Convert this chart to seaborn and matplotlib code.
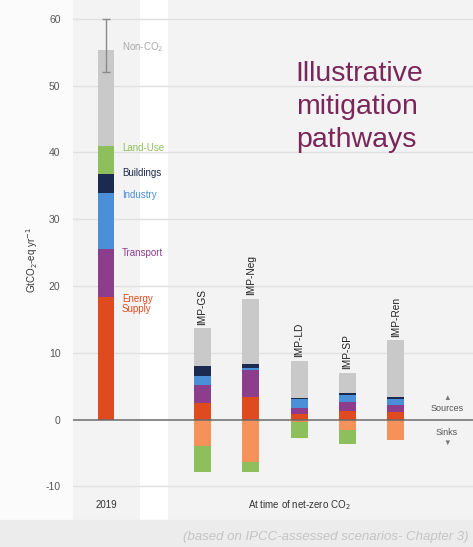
import numpy as np
import matplotlib
matplotlib.use("Agg")
import matplotlib.pyplot as plt
import seaborn as sns

# GHG emissions by sector (GtCO2-eq/yr): 2019 and at time of net-zero CO2
pathways = ["2019", "IMP-GS", "IMP-Neg", "IMP-LD", "IMP-SP", "IMP-Ren"]
energy_supply = [18.3, 2.4, 3.3, 0.9, 1.3, 1.1]
transport = [7.3, 2.7, 4.1, 0.8, 1.3, 1.0]
industry = [8.3, 1.4, 0.3, 1.3, 1.0, 0.9]
buildings = [2.8, 1.5, 0.6, 0.2, 0.3, 0.4]
land_use = [4.3, 0.0, 0.0, 0.0, 0.0, 0.0]
non_co2 = [14.3, 5.7, 9.8, 5.6, 3.1, 8.5]
energy_sinks = [0.0, -4.0, -6.3, -0.3, -1.6, -3.0]
land_use_sinks = [0.0, -3.8, -1.5, -2.4, -2.0, -0.1]

range_2019 = [52.0, 60.0]
yticks = [-10, 0, 10, 20, 30, 40, 50, 60]

sector_labels = ["Energy\nSupply", "Transport", "Industry", "Buildings", "Land-Use", "Non-CO$_2$"]
sector_colors = ["#e04a1f", "#8c3d8c", "#4a8fd8", "#1b2a4e", "#8dbf5c", "#c9c9c9"]
sink_colors = ["#f5925a", "#8dbf5c"]

order = ["2019", "gap", "IMP-GS", "IMP-Neg", "IMP-LD", "IMP-SP", "IMP-Ren"]

sns.set_style("white")
plt.rcParams["font.family"] = ["Liberation Sans", "DejaVu Sans"]

fig = plt.figure(figsize=(4.73, 5.47), dpi=100)
fig.patch.set_facecolor("#fbfbfb")
ax = fig.add_axes([73 / 473, 27 / 547, 400 / 473, 520 / 547])
ax.set_facecolor("#f3f3f3")

# footer band
fig.patches.append(plt.Rectangle((0, 0), 1, 27 / 547, transform=fig.transFigure,
                                 color="#ececec", zorder=0))

# white separator between 2019 and the pathways
ax.axvspan(0.70, 1.28, color="white", zorder=0.2, lw=0)

for y in yticks:
    if y != 0:
        ax.axhline(y, color="#e0e0e0", lw=1.0, zorder=0.5)

bar_kw = dict(order=order, width=0.35, saturation=1, errorbar=None,
              linewidth=0, ax=ax)

# positive (sources) stacks drawn from the top down
sources = np.array([energy_supply, transport, industry, buildings, land_use, non_co2])
cum_pos = np.cumsum(sources, axis=0)
for i in reversed(range(len(sources))):
    sns.barplot(x=pathways, y=cum_pos[i], color=sector_colors[i], zorder=2, **bar_kw)

# negative (sinks) stacks
sinks = np.array([energy_sinks, land_use_sinks])
cum_neg = np.cumsum(sinks, axis=0)
for i in reversed(range(len(sinks))):
    sns.barplot(x=pathways, y=cum_neg[i], color=sink_colors[i], zorder=2, **bar_kw)

# 2019 uncertainty range
mid = (range_2019[0] + range_2019[1]) / 2
ax.errorbar(0, mid, yerr=[[mid - range_2019[0]], [range_2019[1] - mid]],
            fmt="none", ecolor="#8a8a8a", elinewidth=1, capsize=3, zorder=3)

ax.axhline(0, color="#6a6a6a", lw=1.1, zorder=3)

ax.set_xlim(-0.683, 7.6)
ax.set_ylim(-15.04, 62.8)
ax.set_yticks(yticks)
ax.set_yticklabels([str(t) for t in yticks], fontsize=7.5, color="#555555")
ax.tick_params(axis="y", length=0, pad=9)
ax.set_xticks([])
ax.set_xlabel("")
for s in ax.spines.values():
    s.set_visible(False)
ax.set_ylabel("GtCO$_2$-eq yr$^{-1}$", fontsize=7, color="#333333", labelpad=4)

# sector labels beside the 2019 bar
label_y = [18.8, 25.7, 34.4, 37.7, 41.4, 56.8]
for lab, col, y in zip(sector_labels, sector_colors, label_y):
    txt_col = "#a8a8a8" if col == "#c9c9c9" else col
    ax.text(0.33, y, lab, fontsize=7, color=txt_col, va="top", ha="left",
            linespacing=1.05, zorder=4)

# pathway names above each bar
totals = cum_pos[-1]
for name, tot in zip(pathways[1:], totals[1:]):
    ax.text(order.index(name), tot + 0.5, name, rotation=90, fontsize=7.3,
            color="#222222", ha="center", va="bottom", zorder=4)

ax.text(3.93, 53.6, "Illustrative\nmitigation\npathways", fontsize=20.5,
        color="#7a2658", ha="left", va="top", linespacing=1.33, zorder=4)

ax.text(7.06, 3.1, "\u25B2", fontsize=5.5, color="#777777", ha="center", va="center")
ax.text(7.06, 1.6, "Sources", fontsize=6.5, color="#555555", ha="center", va="center")
ax.text(7.06, -1.9, "Sinks", fontsize=6.5, color="#555555", ha="center", va="center")
ax.text(7.06, -3.5, "\u25BC", fontsize=5.5, color="#777777", ha="center", va="center")

ax.text(0, -12.8, "2019", fontsize=7, color="#333333", ha="center", va="center")
ax.text(4.0, -12.8, "At time of net-zero CO$_2$", fontsize=7, color="#333333",
        ha="center", va="center")

fig.text(0.99, 10 / 547, "(based on IPCC-assessed scenarios- Chapter 3)", fontsize=9.5,
         style="italic", color="#c4c4c4", ha="right", va="center")

fig.savefig("out.png", dpi=100, facecolor=fig.get_facecolor())
